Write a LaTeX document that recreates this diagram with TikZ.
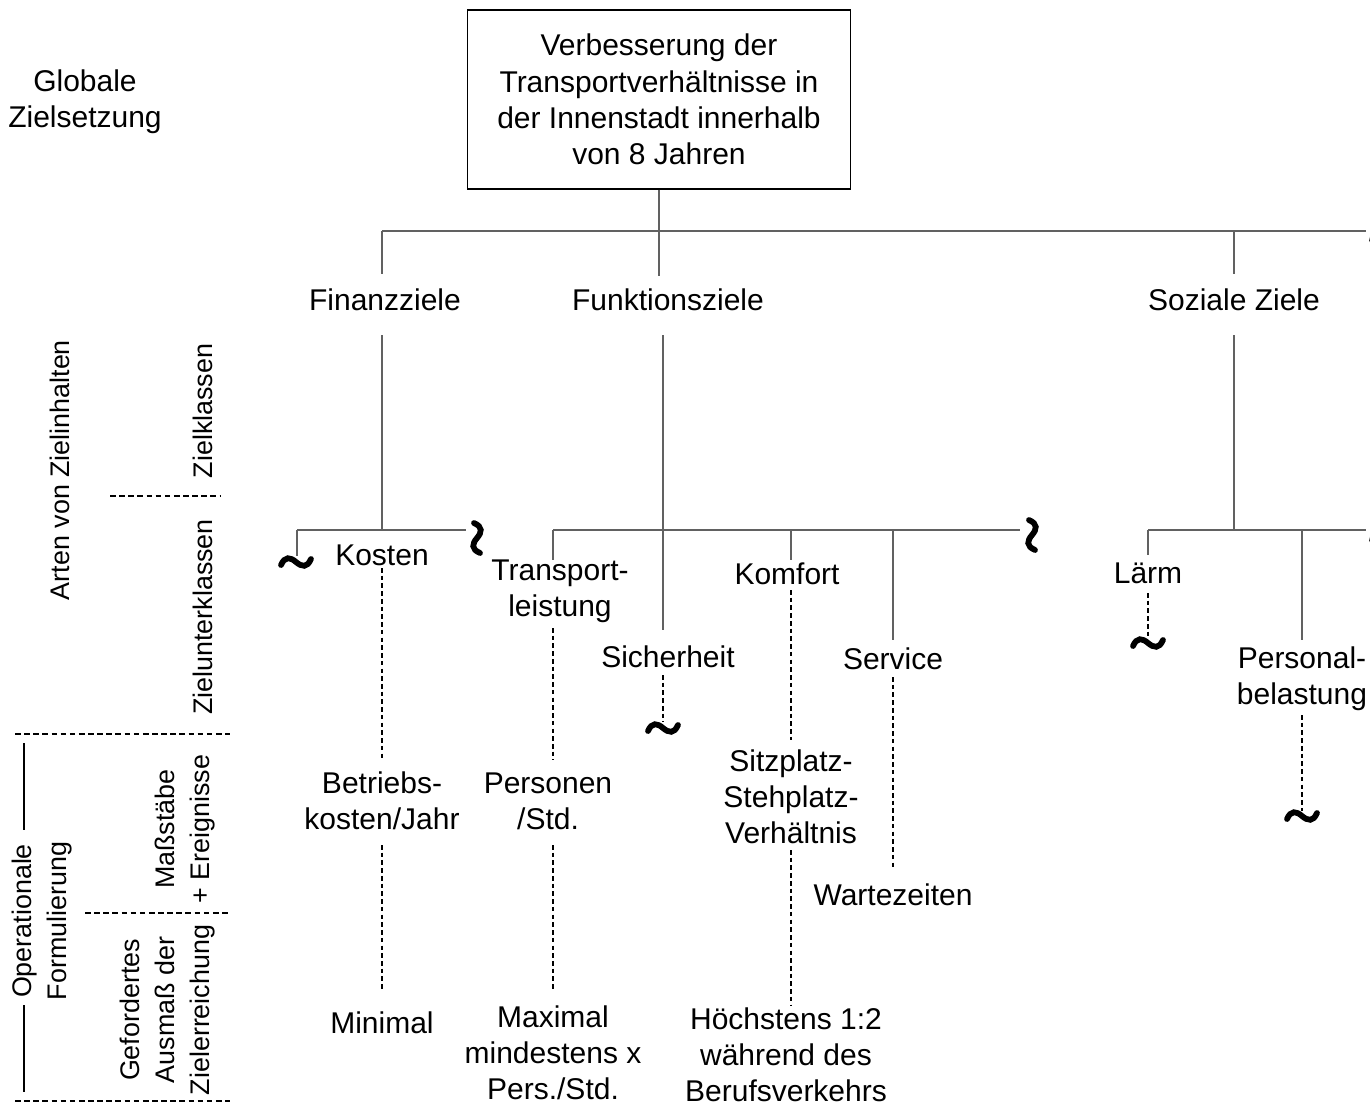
\documentclass[tikz,border=0pt]{standalone}
\usepackage{fontspec}
\setmainfont{Liberation Sans}
\newcommand\mfont{\fontsize{17.07pt}{20.6pt}\selectfont}
\newcommand\rfont{\fontsize{15.3pt}{19.9pt}\selectfont}
\tikzset{
  lbl/.style={font=\mfont, align=center, inner sep=0pt},
  rlbl/.style={font=\rfont, align=center, inner sep=0pt, rotate=90},
  topbox/.style={draw=black, line width=0.6pt, font=\mfont, align=center, minimum width=7.68cm, minimum height=3.58cm, inner sep=0pt},
  ln/.style={draw=black!62, line width=0.75pt},
  dln/.style={draw=black, line width=0.6pt, dash pattern=on 2.6pt off 1.8pt},
  sep/.style={draw=black, line width=0.6pt, dash pattern=on 3.2pt off 2pt},
  brk/.style={draw=black, line width=0.6pt},
  hwave/.pic={\draw[black, line width=3.3pt, line cap=round]
     (-15,3) .. controls (-11,-6) and (-6,-5) .. (0,0)
     .. controls (6,5) and (11,6) .. (15,-3);}
}
\begin{document}
\begin{tikzpicture}[x=0.02cm, y=-0.02cm]
\useasboundingbox (0,0) rectangle (1370,1107);

% ---- nodes ----
\node[topbox] (top) at (659,99.5) {Verbesserung der\\Transportverhältnisse in\\der Innenstadt innerhalb\\von 8 Jahren};
\node[lbl] (glob) at (85,102) {Globale\\Zielsetzung};

\node[lbl] (fin) at (385,300) {Finanzziele};
\node[lbl] (funk) at (668,300) {Funktionsziele};
\node[lbl] (soz) at (1234,300) {Soziale Ziele};

\node[lbl] (kosten) at (382,555) {Kosten};
\node[lbl] (trans) at (560,591) {Transport-\\leistung};
\node[lbl] (komf) at (787,574) {Komfort};
\node[lbl] (sich) at (668,657) {Sicherheit};
\node[lbl] (serv) at (893,659) {Service};
\node[lbl] (laerm) at (1148,573) {Lärm};
\node[lbl] (pers) at (1302,679) {Personal-\\belastung};

\node[lbl] (betr) at (382,801) {Betriebs-\\kosten/Jahr};
\node[lbl] (person) at (548,801) {Personen\\/Std.};
\node[lbl] (sitz) at (791,797) {Sitzplatz-\\Stehplatz-\\Verhältnis};
\node[lbl] (warte) at (893,895) {Wartezeiten};

\node[lbl] (minimal) at (382,1023) {Minimal};
\node[lbl] (maximal) at (553,1053) {Maximal\\mindestens x\\Pers./Std.};
\node[lbl] (hoechst) at (786,1055) {Höchstens 1:2\\während des\\Berufsverkehrs};

% left side labels
\node[rlbl] (arten) at (60,470) {Arten von Zielinhalten};
\node[rlbl] (zk) at (203,411) {Zielklassen};
\node[rlbl] (zuk) at (203,617) {Zielunterklassen};
\node[rlbl] (mass) at (185,829) {Maßstäbe\\+ Ereignisse};
\node[rlbl] (gef) at (168,1010) {Gefordertes\\Ausmaß der\\Zielerreichung};
\node[rlbl] (oper) at (42,921) {Operationale\\Formulierung};

% ---- coordinates ----
\coordinate (j0) at (659,231);
\coordinate (b0l) at (382,231);
\coordinate (b0r) at (1366,231);
\coordinate (b0s) at (1234,231);
\coordinate (finU) at (382,274);
\coordinate (funkU) at (659,276);
\coordinate (sozU) at (1234,274);

\coordinate (finD) at (382,335);
\coordinate (j1) at (382,530);
\coordinate (b1l) at (297,530);
\coordinate (b1r) at (466,530);
\coordinate (kl) at (297,556);

\coordinate (funkD) at (663,335);
\coordinate (j2) at (663,530);
\coordinate (sichU) at (663,630);
\coordinate (b2l) at (553,530);
\coordinate (b2r) at (1020,530);
\coordinate (b2k) at (791,530);
\coordinate (b2s) at (893,530);
\coordinate (transU) at (553,560);
\coordinate (komfU) at (791,560);
\coordinate (servU) at (893,640);

\coordinate (sozD) at (1234,335);
\coordinate (j3) at (1234,530);
\coordinate (b3l) at (1148,530);
\coordinate (b3r) at (1366,530);
\coordinate (b3p) at (1302,530);
\coordinate (laermU) at (1148,555);
\coordinate (persU) at (1302,640);

% dashed end points
\coordinate (k1) at (382,568); \coordinate (k2) at (382,760);
\coordinate (k3) at (382,845); \coordinate (k4) at (382,990);
\coordinate (t1) at (553,628); \coordinate (t2) at (553,760);
\coordinate (t3) at (553,845); \coordinate (t4) at (553,990);
\coordinate (s1) at (663,675); \coordinate (s2) at (663,722);
\coordinate (m1) at (791,590); \coordinate (m2) at (791,740);
\coordinate (m3) at (791,850); \coordinate (m4) at (791,1005);
\coordinate (v1) at (893,677); \coordinate (v2) at (893,870);
\coordinate (l1) at (1148,593); \coordinate (l2) at (1148,638);
\coordinate (p1) at (1302,715); \coordinate (p2) at (1302,811);

% ---- solid connectors ----
\draw[ln] (top.south) -- (j0);
\draw[ln] (b0l) -- (b0r);
\draw[ln] (b0l) -- (finU);
\draw[ln] (j0) -- (funkU);
\draw[ln] (b0s) -- (sozU);

\draw[ln] (finD) -- (j1);
\draw[ln] (b1l) -- (b1r);
\draw[ln] (b1l) -- (kl);

\draw[ln] (funkD) -- (sichU);
\draw[ln] (b2l) -- (b2r);
\draw[ln] (b2l) -- (transU);
\draw[ln] (b2k) -- (komfU);
\draw[ln] (b2s) -- (servU);

\draw[ln] (sozD) -- (j3);
\draw[ln] (b3l) -- (b3r);
\draw[ln] (b3l) -- (laermU);
\draw[ln] (b3p) -- (persU);

% ---- dashed connectors ----
\draw[dln] (k1) -- (k2);
\draw[dln] (k3) -- (k4);
\draw[dln] (t1) -- (t2);
\draw[dln] (t3) -- (t4);
\draw[dln] (s1) -- (s2);
\draw[dln] (m1) -- (m2);
\draw[dln] (m3) -- (m4);
\draw[dln] (v1) -- (v2);
\draw[dln] (l1) -- (l2);
\draw[dln] (p1) -- (p2);

% ---- tildes ----
\pic at (296,562) {hwave};
\pic[rotate=90] at (477,538) {hwave};
\pic[rotate=90] at (1032,535) {hwave};
\pic at (663,728) {hwave};
\pic at (1148,643) {hwave};
\pic at (1302,816) {hwave};
\pic[rotate=90] at (1376,232) {hwave};
\pic[rotate=90] at (1376,532) {hwave};

% ---- left separators ----
\coordinate (d1a) at (110,496); \coordinate (d1b) at (220,496);
\coordinate (d2a) at (15,734); \coordinate (d2b) at (230,734);
\coordinate (d3a) at (85,913); \coordinate (d3b) at (230,913);
\coordinate (d4a) at (15,1101); \coordinate (d4b) at (230,1101);
\draw[sep] (d1a) -- (d1b);
\draw[sep] (d2a) -- (d2b);
\draw[sep] (d3a) -- (d3b);
\draw[sep] (d4a) -- (d4b);
\coordinate (o1) at (24,743); \coordinate (o2) at (24,830);
\coordinate (o3) at (24,1005); \coordinate (o4) at (24,1092);
\draw[brk] (o1) -- (o2);
\draw[brk] (o3) -- (o4);
\end{tikzpicture}
\end{document}
